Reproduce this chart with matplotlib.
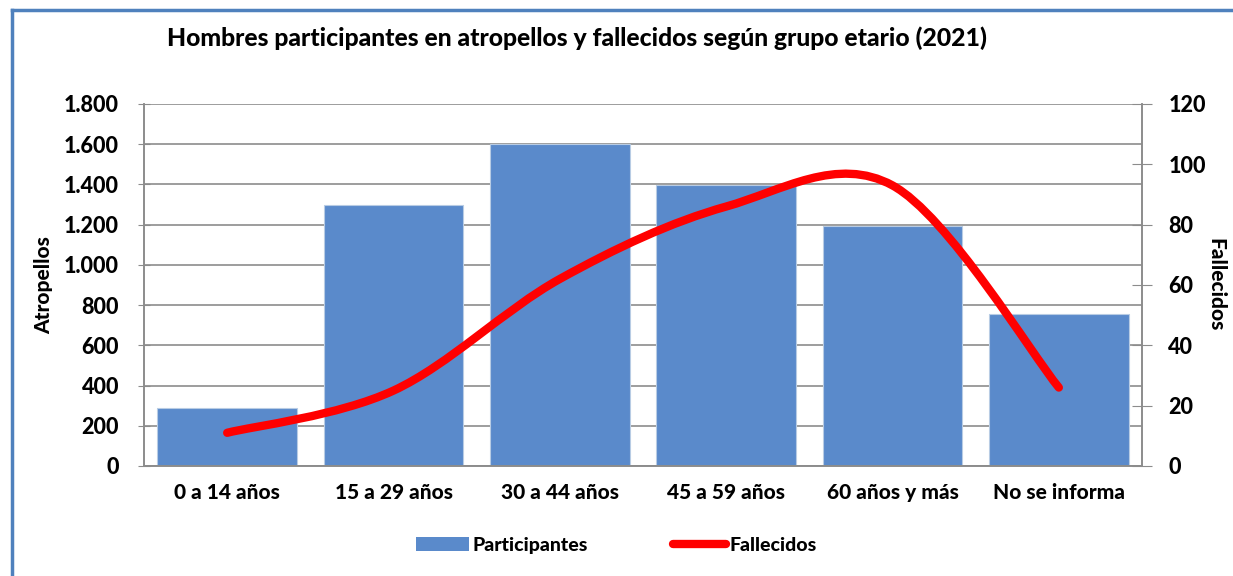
import numpy as np
import matplotlib.pyplot as plt
from matplotlib.path import Path
from matplotlib.patches import PathPatch
from matplotlib.lines import Line2D
from matplotlib.patches import Patch
from matplotlib.ticker import FuncFormatter

plt.rcParams['font.family'] = ['Lato', 'DejaVu Sans']
plt.rcParams['font.weight'] = 900

categorias = ["0 a 14 años", "15 a 29 años", "30 a 44 años", "45 a 59 años", "60 años y más", "No se informa"]
participantes = [288, 1298, 1600, 1396, 1192, 756]
fallecidos = [11, 25, 62, 86, 93, 26]

BLUE = "#5A8ACB"
RED = "#FF0000"
GRID = "#8C8C8C"
W = 900


def smooth_path(xs, ys):
    # excel-like smoothed line: bezier through the points
    xs = np.asarray(xs, float); ys = np.asarray(ys, float)
    pts = np.column_stack([xs, ys])
    verts = [pts[0]]
    codes = [Path.MOVETO]
    n = len(pts)
    for i in range(n - 1):
        p0 = pts[i - 1] if i > 0 else pts[i]
        p1 = pts[i]; p2 = pts[i + 1]
        p3 = pts[i + 2] if i + 2 < n else pts[i + 1]
        c1 = p1 + (p2 - p0) / 6
        c2 = p2 - (p3 - p1) / 6
        verts += [c1, c2, p2]
        codes += [Path.CURVE4] * 3
    return Path(verts, codes)


fig = plt.figure(figsize=(12.33, 5.76), dpi=100)
ax = fig.add_axes([0.1168, 0.191, 0.8094, 0.6285])
ax2 = ax.twinx()

x = np.arange(len(categorias))
ax.bar(x, participantes, width=0.84, color=BLUE, edgecolor="#B8CCE4", linewidth=0.8, zorder=2)
ax.set_xlim(-0.5, len(categorias) - 0.5)
ax.set_ylim(0, 1800)
ax.set_yticks(np.arange(0, 1801, 200))
ax.yaxis.set_major_formatter(FuncFormatter(lambda v, p: f"{int(v):,}".replace(",", ".")))
ax.grid(axis="y", color=GRID, linewidth=1.2, zorder=0)
ax.set_axisbelow(True)
ax.set_xticks(x)
ax.set_xticklabels(categorias, fontsize=15, fontweight=W)
ax.tick_params(axis="x", length=0, pad=12)
ax.tick_params(axis="y", labelsize=15.5, length=8, color=GRID, direction="inout", pad=14)
ax.set_ylabel("Atropellos", fontsize=15, fontweight=W, labelpad=8)

ax2.set_ylim(0, 120)
ax2.set_yticks(np.arange(0, 121, 20))
ax2.tick_params(axis="y", labelsize=15.5, length=14, color=GRID, direction="inout", pad=12)
ax2.set_ylabel("Fallecidos", fontsize=15, fontweight=W, rotation=-90, labelpad=14)
ax2.add_patch(PathPatch(smooth_path(x, fallecidos), facecolor="none", edgecolor=RED,
                        linewidth=6, capstyle="round", joinstyle="round", zorder=3))

for a in (ax, ax2):
    for s in a.spines.values():
        s.set_color(GRID)
        s.set_linewidth(1.2)
ax.spines["top"].set_visible(False)
ax2.spines["top"].set_visible(False)

for t in ax.get_yticklabels() + ax2.get_yticklabels():
    t.set_fontweight(W)

fig.text(0.468, 0.934, "Hombres participantes en atropellos y fallecidos según grupo etario (2021)",
         ha="center", va="center", fontsize=17.8, fontweight=W)

handles = [Patch(facecolor=BLUE, edgecolor="none"),
           Line2D([0], [0], color=RED, linewidth=6, solid_capstyle="round")]
fig.legend(handles, ["Participantes", "Fallecidos"], loc="center", bbox_to_anchor=(0.5, 0.053),
           ncol=2, frameon=False, prop={"weight": W, "size": 14},
           handlelength=2.7, handletextpad=0.2, columnspacing=4.4)

# blue outer frame (left and top only)
fig.add_artist(Line2D([0.0097, 0.0097], [0, 0.983], color="#4F81BD", linewidth=2.5, transform=fig.transFigure))
fig.add_artist(Line2D([0.0097, 1.0], [0.983, 0.983], color="#4F81BD", linewidth=2.5, transform=fig.transFigure))

fig.savefig("out.png", dpi=100)
